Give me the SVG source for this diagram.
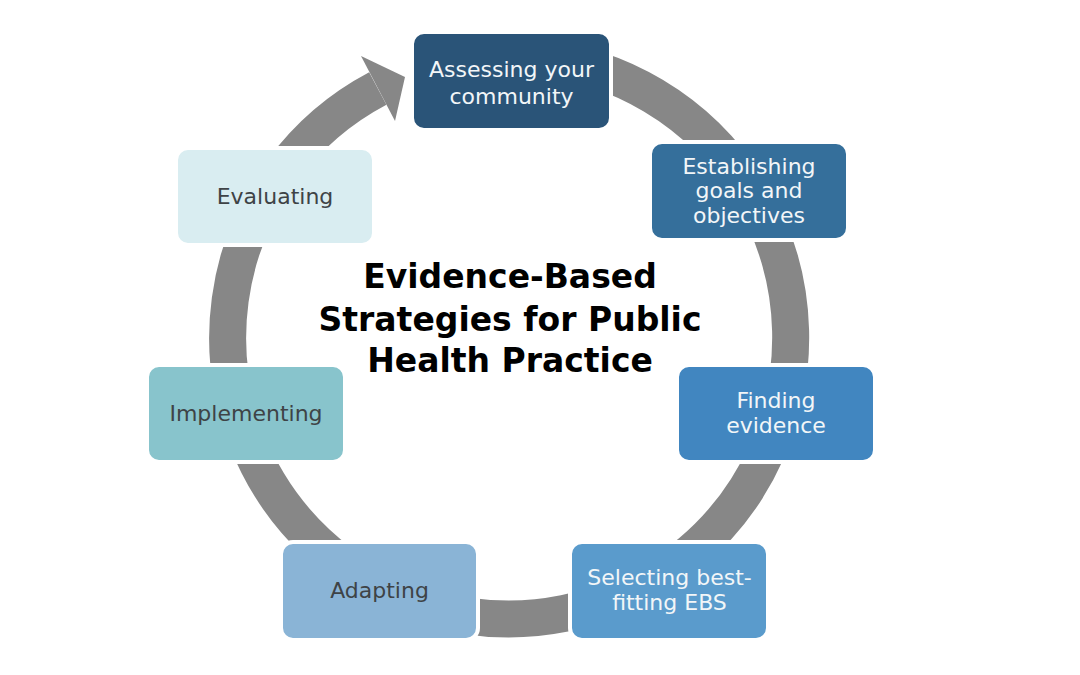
<svg xmlns="http://www.w3.org/2000/svg" width="1080" height="675" viewBox="0 0 1080 675">
<style>
.node rect{stroke:#ffffff;stroke-width:4}
.lbl{font-family:"DejaVu Sans",Verdana,sans-serif;font-size:22px;text-anchor:middle}
.light{fill:#f2f6f8}
.dark{fill:#3e4346}
.title{font-family:"DejaVu Sans",Verdana,sans-serif;font-size:33px;font-weight:bold;text-anchor:middle;fill:#000}
</style>
<rect width="1080" height="675" fill="#ffffff"/>
<g id="connectors">
<path d="M 534.5 57.1 A 281.5 281.5 0 1 1 377.8 88.5" fill="none" stroke="#878787" stroke-width="37"/>
<polygon points="361,56 395,121 405,77" fill="#878787"/>
</g>
<g id="title">
<text class="title" x="510" y="288">Evidence-Based</text>
<text class="title" x="510" y="331">Strategies for Public</text>
<text class="title" x="510" y="372">Health Practice</text>
</g>
<g id="n1" class="node">
<rect x="412" y="32" width="199" height="98" rx="12" fill="#2a5478"/>
<text class="lbl light" x="511.5" y="77">Assessing your</text>
<text class="lbl light" x="511.5" y="104">community</text>
</g>
<g id="n2" class="node">
<rect x="650" y="142" width="198" height="98" rx="12" fill="#356f9b"/>
<text class="lbl light" x="749" y="173.5">Establishing</text>
<text class="lbl light" x="749" y="198">goals and</text>
<text class="lbl light" x="749" y="222.5">objectives</text>
</g>
<g id="n3" class="node">
<rect x="677" y="365" width="198" height="97" rx="12" fill="#4186c0"/>
<text class="lbl light" x="776" y="408">Finding</text>
<text class="lbl light" x="776" y="432.5">evidence</text>
</g>
<g id="n4" class="node">
<rect x="570" y="542" width="198" height="98" rx="12" fill="#5a9bcc"/>
<text class="lbl light" x="669.5" y="585">Selecting best-</text>
<text class="lbl light" x="669.5" y="610">fitting EBS</text>
</g>
<g id="n5" class="node">
<rect x="281" y="542" width="197" height="98" rx="12" fill="#8ab4d6"/>
<text class="lbl dark" x="379.5" y="598">Adapting</text>
</g>
<g id="n6" class="node">
<rect x="147" y="365" width="198" height="97" rx="12" fill="#88c4cc"/>
<text class="lbl dark" x="246" y="420.5">Implementing</text>
</g>
<g id="n7" class="node">
<rect x="176" y="148" width="198" height="97" rx="12" fill="#d9edf1"/>
<text class="lbl dark" x="275" y="203.5">Evaluating</text>
</g>
</svg>
